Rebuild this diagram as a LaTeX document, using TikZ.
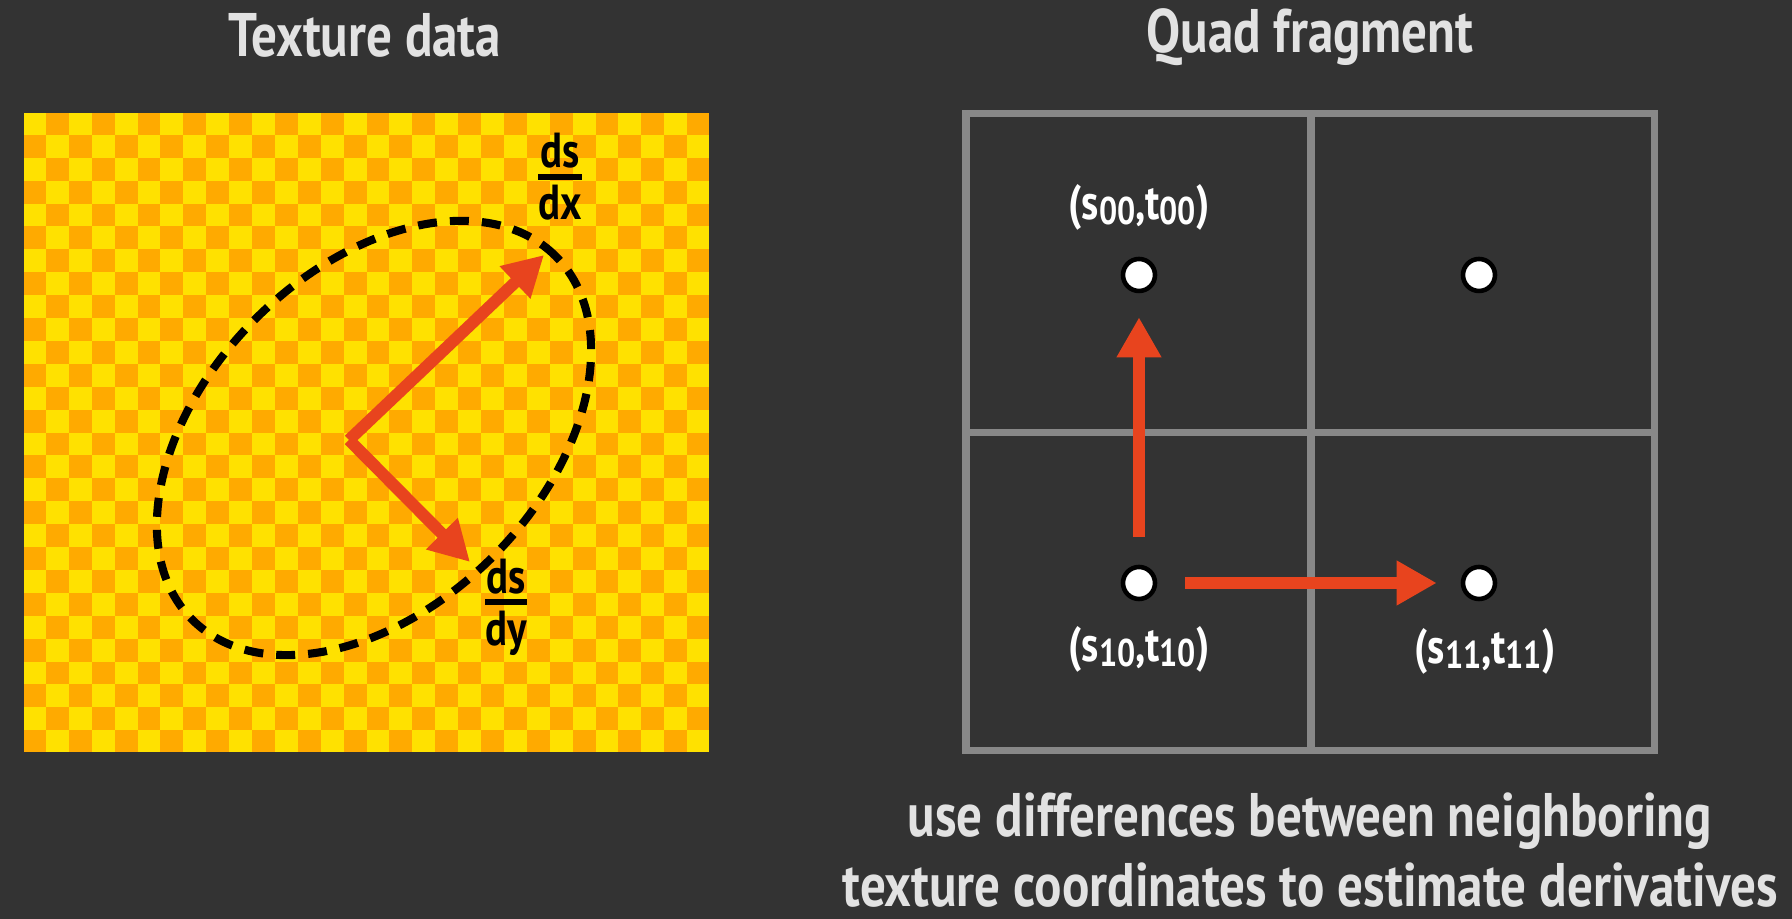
\documentclass[tikz,border=0pt]{standalone}
\usepackage{fontspec}
\usepackage{amsmath}
\setmainfont{PT Sans}[FakeStretch=0.83]
\usetikzlibrary{arrows.meta}

\definecolor{bggray}{HTML}{333333}
\definecolor{texyellow}{HTML}{FFE100}
\definecolor{texorange}{HTML}{FFAA00}
\definecolor{arrowred}{HTML}{E8441E}
\definecolor{gridgray}{HTML}{888888}
\definecolor{labelgray}{HTML}{E2E2E2}

% small index next to s and t
\newcommand{\stsub}[1]{\raisebox{-0.12em}{\fontsize{11}{11}\selectfont #1}}

\begin{document}
\begin{tikzpicture}[
    title/.style={text=labelgray, font=\fontsize{17.5}{20}\selectfont\bfseries},
    deriv/.style={arrowred, line width=3.4pt, -{Triangle[length=0.4cm,width=0.42cm]}},
    gap/.style={shorten <=0.28cm, shorten >=0.24cm},
    sample/.style={circle, draw=black, fill=white, line width=1.3pt, minimum size=0.32cm, inner sep=0pt},
    stcoord/.style={text=white, font=\fontsize{14}{16}\selectfont\bfseries},
    fracl/.style={text=black, font=\fontsize{14}{16}\selectfont\bfseries},
    gridline/.style={gridgray, line width=2pt}
]
    % background, fixes the page size
    \useasboundingbox (0,0) rectangle (17.92,9.19);
    \fill[bggray] (0,0) rectangle (17.92,9.19);

    \node[title] (textitle) at (3.65,8.84) {Texture data};
    \node[title] (quadtitle) at (13.10,8.82) {Quad fragment};

    % checkerboard texture, 30 x 28 texels
    \fill[texyellow] (0.23,1.658) rectangle (7.10,8.07);
    \foreach \i in {0,...,29}
        \foreach \j in {0,...,27} {
            \pgfmathtruncatemacro{\parity}{mod(\i+\j,2)}
            \ifnum\parity=1
                \fill[texorange] (0.23+\i*0.229, 8.07-\j*0.229) rectangle ++(0.229,-0.229);
            \fi
        }
    \draw[black!80, line width=0.6pt] (0.23,1.658) rectangle (7.10,8.07);

    % footprint of the pixel in texture space
    \draw[black, line width=2.3pt, dash pattern=on 0.19cm off 0.13cm, rotate around={45:(3.74,4.81)}]
        (3.74,4.81) ellipse (2.57 and 1.68);

    \coordinate (origin) at (3.49,4.79);
    \coordinate (tipx) at (5.44,6.64);
    \coordinate (tipy) at (4.70,3.57);
    \draw[deriv] (origin) -- (tipx);
    \draw[deriv] (origin) -- (tipy);
    \node[fracl] (dsdx) at (5.60,7.42) {$\genfrac{}{}{1.6pt}{1}{\textstyle\text{ds}}{\textstyle\text{dx}}$};
    \node[fracl] (dsdy) at (5.06,3.12) {$\genfrac{}{}{1.6pt}{1}{\textstyle\text{ds}}{\textstyle\text{dy}}$};

    % 2x2 quad of fragments
    \draw[gridline] (9.66,1.68) rectangle (16.54,8.05);
    \draw[gridline] (13.11,1.68) -- (13.11,8.05);
    \draw[gridline] (9.66,4.86) -- (16.54,4.86);

    \node[sample] (p00) at (11.39,6.44) {};
    \node[sample] (p01) at (14.79,6.44) {};
    \node[sample] (p10) at (11.39,3.36) {};
    \node[sample] (p11) at (14.79,3.36) {};

    \node[stcoord] (l00) at (11.39,7.12) {(s\stsub{00},t\stsub{00})};
    \node[stcoord] (l10) at (11.39,2.70) {(s\stsub{10},t\stsub{10})};
    \node[stcoord] (l11) at (14.85,2.68) {(s\stsub{11},t\stsub{11})};

    \draw[deriv, gap] (p10) -- (p00);
    \draw[deriv, gap] (p10) -- (p11);

    \node[title, align=center] (caption) at (13.10,0.69)
        {use differences between neighboring\\texture coordinates to estimate derivatives};
\end{tikzpicture}
\end{document}
